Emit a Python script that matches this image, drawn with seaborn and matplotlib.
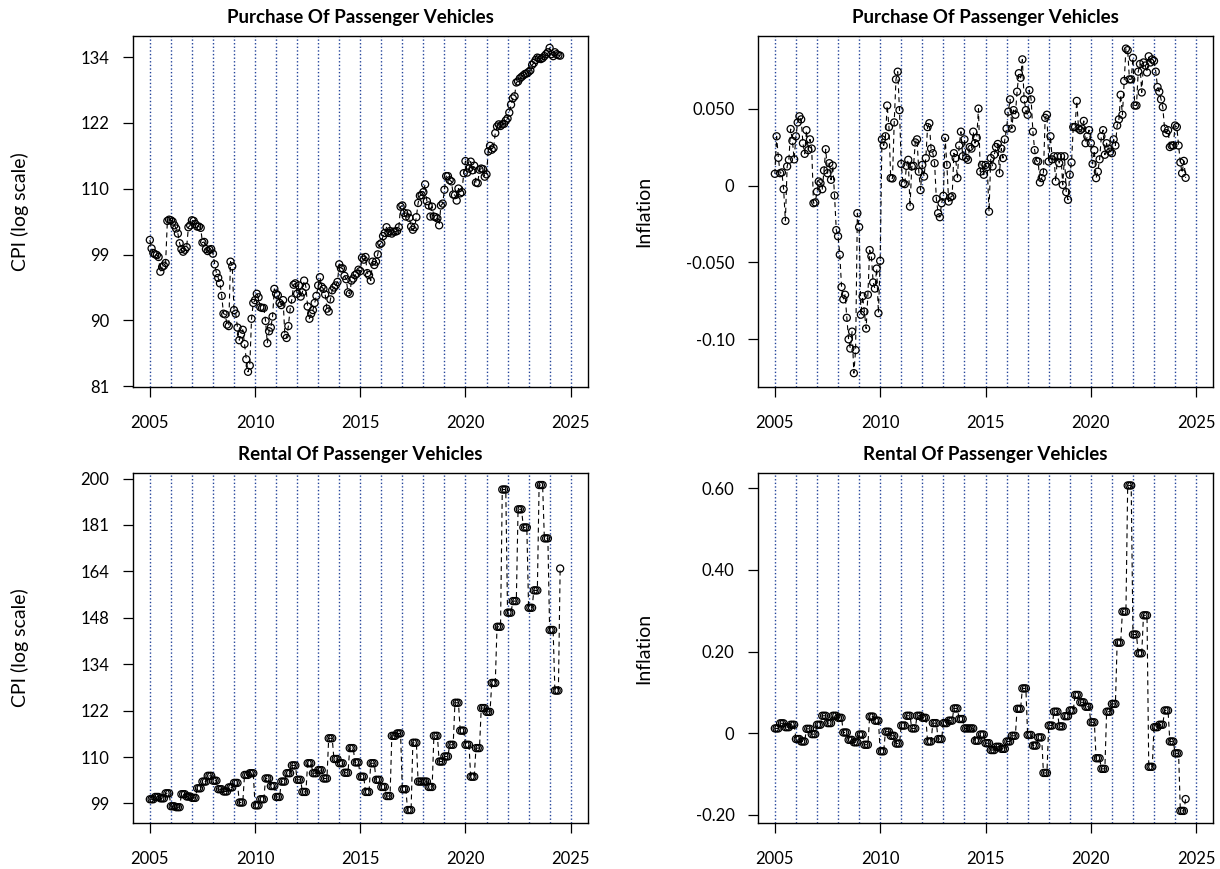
import numpy as np
import pandas as pd
import matplotlib
matplotlib.use("Agg")
import matplotlib.pyplot as plt
import seaborn as sns
from matplotlib.ticker import FixedLocator, FixedFormatter, NullLocator

# ---------------- data ----------------
start_year = 2005

purchase_cpi = [
    101.3, 100.0, 99.3, 99.1, 99.0, 98.7, 96.5, 97.2, 97.4, 97.8, 104.3, 104.5,   # 2005
    104.4, 104.2, 103.6, 103.1, 102.3, 100.8, 99.9, 99.5, 99.8, 100.2, 103.3, 103.6,  # 2006
    104.4, 104.3, 103.8, 103.4, 103.4, 103.2, 100.9, 101.0, 99.9, 99.6, 99.8, 99.9,   # 2007
    99.2, 97.6, 96.3, 95.6, 94.8, 93.0, 90.5, 90.4, 89.0, 88.8, 98.0, 97.3,           # 2008
    91.0, 90.5, 88.6, 86.9, 87.7, 88.3, 86.4, 84.4, 82.8, 83.6, 89.8, 92.0,           # 2009
    92.4, 93.3, 92.8, 91.4, 91.3, 91.3, 89.5, 86.5, 88.1, 88.6, 90.1, 94.0,           # 2010
    93.3, 93.1, 92.0, 91.7, 92.4, 87.6, 87.2, 88.8, 91.1, 92.5, 94.6, 94.8,           # 2011
    93.3, 94.5, 92.9, 93.5, 95.2, 94.3, 91.5, 89.8, 90.5, 91.0, 92.0, 93.0,           # 2012
    94.5, 95.7, 94.3, 94.0, 93.2, 91.2, 90.8, 92.5, 93.8, 94.2, 94.5, 95.0,           # 2013
    97.6, 97.0, 97.0, 95.9, 95.4, 93.5, 93.3, 95.2, 95.5, 96.0, 96.2, 96.8,           # 2014
    96.6, 98.6, 98.3, 98.7, 96.3, 96.0, 95.2, 98.0, 97.5, 98.0, 99.1, 100.6,          # 2015
    100.8, 101.9, 102.4, 103.3, 102.4, 102.7, 102.3, 102.6, 102.6, 102.7, 103.3, 106.6,  # 2016
    106.8, 105.6, 105.0, 105.5, 104.8, 103.4, 102.9, 103.3, 104.9, 107.2, 108.4, 108.5,  # 2017
    109.0, 110.3, 107.5, 106.8, 105.0, 106.6, 105.0, 104.9, 104.7, 103.6, 106.8, 107.1,  # 2018
    109.4, 111.7, 111.7, 111.0, 110.8, 108.6, 108.5, 107.6, 109.6, 108.8, 109.0, 112.2,  # 2019
    114.3, 112.3, 113.0, 114.2, 112.7, 113.5, 110.6, 110.5, 112.8, 113.0, 112.9, 111.6,  # 2020
    112.0, 116.0, 117.0, 116.3, 116.6, 119.3, 120.5, 120.9, 120.6, 120.9, 121.0, 121.6,  # 2021
    122.0, 123.1, 124.6, 125.8, 126.2, 128.9, 129.1, 129.7, 130.0, 130.3, 130.6, 130.7,  # 2022
    131.0, 131.3, 132.4, 132.8, 133.4, 133.9, 133.8, 133.6, 133.8, 134.2, 134.6, 135.0,  # 2023
    135.9, 134.6, 134.2, 135.0, 134.6, 134.4, 134.3,                                     # 2024
]

purchase_infl = [
    0.0076, 0.032, 0.018, 0.008, 0.0085, -0.0024, -0.023, 0.0124, 0.0167, 0.0367, 0.029, 0.017,
    0.032, 0.041, 0.045, 0.043, 0.0275, 0.0206, 0.036, 0.023, 0.030, 0.024, -0.0115, -0.011,
    -0.004, 0.0026, 0.0015, -0.0024, 0.0098, 0.0236, 0.008, 0.0145, 0.0037, 0.013, -0.0065, -0.029,
    -0.033, -0.045, -0.066, -0.074, -0.071, -0.086, -0.100, -0.106, -0.095, -0.122, -0.107, -0.018,
    -0.027, -0.084, -0.072, -0.082, -0.093, -0.071, -0.042, -0.046, -0.063, -0.067, -0.054, -0.083,
    -0.049, 0.030, 0.026, 0.032, 0.052, 0.038, 0.0048, 0.0046, 0.041, 0.069, 0.074, 0.049,
    0.014, 0.0015, 0.0009, 0.0128, 0.0167, -0.0137, 0.0124, 0.0128, 0.028, 0.030, 0.009, -0.003,
    0.0134, 0.0058, 0.0178, 0.038, 0.0405, 0.024, 0.021, 0.0145, -0.0087, -0.018, -0.0206, -0.0115,
    -0.0067, 0.031, 0.0134, -0.0104, -0.0076, -0.007, 0.021, 0.0178, 0.0048, 0.026, 0.035, 0.019,
    0.030, 0.018, 0.0167, 0.025, 0.024, 0.035, 0.0275, 0.031, 0.050, 0.009, 0.0134, 0.007,
    0.0134, 0.012, -0.017, 0.0178, 0.0124, 0.020, 0.025, 0.027, 0.008, 0.024, 0.0178, 0.030,
    0.037, 0.048, 0.056, 0.037, 0.049, 0.046, 0.061, 0.073, 0.070, 0.082, 0.056, 0.049,
    0.046, 0.062, 0.056, 0.035, 0.023, 0.016, 0.0156, 0.002, 0.0048, 0.0085, 0.044, 0.046,
    0.0156, 0.032, 0.017, 0.019, 0.0026, 0.019, 0.0145, 0.019, 0.0004, 0.019, -0.0043, -0.0093,
    0.007, 0.015, 0.038, 0.038, 0.055, 0.037, 0.036, 0.037, 0.042, 0.0275, 0.032, 0.036,
    0.0275, 0.014, 0.023, 0.0048, 0.009, 0.017, 0.032, 0.036, 0.020, 0.0275, 0.024, 0.022,
    0.021, 0.030, 0.026, 0.039, 0.043, 0.059, 0.046, 0.068, 0.089, 0.088, 0.069, 0.069,
    0.083, 0.052, 0.052, 0.074, 0.079, 0.0605, 0.080, 0.078, 0.0735, 0.084, 0.080, 0.082,
    0.081, 0.074, 0.064, 0.061, 0.056, 0.051, 0.037, 0.034, 0.036, 0.025, 0.026, 0.026,
    0.039, 0.038, 0.026, 0.015, 0.008, 0.016, 0.005,
]

# rental series is quarterly (each value held for the three months of its quarter)
rental_cpi_quarterly = [
    99.9, 100.4, 100.1, 101.2,    # 2005
    98.4, 98.2, 101.0, 100.5,     # 2006
    100.2, 102.3, 103.8, 105.1,   # 2007
    104.0, 102.1, 101.6, 102.5,   # 2008
    103.5, 99.2, 105.3, 105.7,    # 2009
    98.6, 99.9, 104.5, 102.8,     # 2010
    100.4, 103.8, 105.7, 107.5,   # 2011
    104.2, 101.5, 108.0, 105.7,   # 2012
    106.4, 104.5, 114.0, 109.0,   # 2013
    108.0, 105.8, 111.6, 108.2,   # 2014
    104.9, 101.5, 108.0, 104.2,   # 2015
    102.6, 100.6, 114.6, 115.2,   # 2016
    102.1, 97.6, 112.9, 103.8,    # 2017
    103.8, 102.6, 114.6, 108.4,   # 2018
    109.6, 112.4, 123.1, 115.9,   # 2019
    112.4, 104.9, 111.6, 121.7,   # 2020
    120.7, 128.5, 145.1, 195.3,   # 2021
    149.6, 153.4, 187.1, 179.9,   # 2022
    151.2, 157.0, 197.2, 175.7,   # 2023
    144.1, 126.4,                 # 2024 H1
]
rental_cpi_last = [164.6]         # Jul 2024

rental_infl_quarterly = [
    0.012, 0.0245, 0.015, 0.021,
    -0.014, -0.020, 0.011, -0.002,
    0.021, 0.043, 0.025, 0.043,
    0.038, 0.002, -0.016, -0.022,
    -0.003, -0.028, 0.041, 0.031,
    -0.044, 0.004, -0.006, -0.025,
    0.019, 0.043, 0.012, 0.043,
    0.038, -0.020, 0.025, -0.014,
    0.025, 0.031, 0.061, 0.035,
    0.012, 0.012, -0.018, -0.003,
    -0.024, -0.041, -0.033, -0.038,
    -0.020, -0.006, 0.060, 0.110,
    -0.004, -0.030, -0.010, -0.097,
    0.019, 0.053, 0.017, 0.042,
    0.056, 0.094, 0.076, 0.065,
    0.027, -0.061, -0.087, 0.053,
    0.072, 0.222, 0.298, 0.607,
    0.242, 0.196, 0.289, -0.082,
    0.015, 0.021, 0.056, -0.020,
    -0.049, -0.190,
]
rental_infl_last = [-0.161]

titles = ["Purchase Of Passenger Vehicles", "Rental Of Passenger Vehicles"]
ylabels = ["CPI (log scale)", "Inflation"]
xtick_labels = ["2005", "2010", "2015", "2020", "2025"]

tl_ytick_labels = ["81", "90", "99", "110", "122", "134"]
bl_ytick_labels = ["99", "110", "122", "134", "148", "164", "181", "200"]
tr_ytick_values = [-0.10, -0.05, 0.0, 0.05]
tr_ytick_labels = ["-0.10", "-0.050", "0", "0.050"]
br_ytick_values = [-0.20, 0.0, 0.20, 0.40, 0.60]
br_ytick_labels = ["-0.20", "0", "0.20", "0.40", "0.60"]

# ---------------- build series ----------------
rental_cpi = np.concatenate([np.repeat(rental_cpi_quarterly, 3), rental_cpi_last])
rental_infl = np.concatenate([np.repeat(rental_infl_quarterly, 3), rental_infl_last])

def month_axis(n):
    return start_year + np.arange(n) / 12.0

# ---------------- style ----------------
sns.set_theme(style="white")
plt.rcParams["font.family"] = ["Lato", "DejaVu Sans"]
plt.rcParams["axes.edgecolor"] = "black"
plt.rcParams["axes.linewidth"] = 1.0

fig = plt.figure(figsize=(12.2, 8.69), dpi=100)
W, H = 1220.0, 869.0
boxes = {
    "tl": (133, 36, 587.5, 387),
    "tr": (758, 36, 1213, 387),
    "bl": (133, 473, 587.5, 823),
    "br": (758, 473, 1213, 823),
}
axes = {}
for k, (x0, y0, x1, y1) in boxes.items():
    axes[k] = fig.add_axes([x0 / W, 1 - y1 / H, (x1 - x0) / W, (y1 - y0) / H])

VLINE_COLOR = "#23439a"


def panel(ax, y, title, ylabel, ylim, log, ytick_vals, ytick_labels, label_x):
    t = month_axis(len(y))
    df = pd.DataFrame({"t": t, "v": y})
    if log:
        ax.set_yscale("log")
    for yr in range(2005, 2026):
        ax.axvline(yr, color=VLINE_COLOR, lw=1.0, ls=(0, (1.0, 1.6)), zorder=1)
    sns.lineplot(data=df, x="t", y="v", ax=ax, color="black", lw=0.8,
                 estimator=None, sort=False, zorder=2)
    ax.lines[-1].set_linestyle((0, (4.5, 3.5)))
    sns.scatterplot(data=df, x="t", y="v", ax=ax, marker="o", s=26,
                    facecolors="none", edgecolor="black", linewidth=0.9, zorder=3)
    ax.set_xlim(2004.2, 2025.8)
    ax.set_ylim(*ylim)
    ax.xaxis.set_major_locator(FixedLocator([2005, 2010, 2015, 2020, 2025]))
    ax.xaxis.set_major_formatter(FixedFormatter(xtick_labels))
    ax.yaxis.set_major_locator(FixedLocator(ytick_vals))
    ax.yaxis.set_major_formatter(FixedFormatter(ytick_labels))
    ax.yaxis.set_minor_locator(NullLocator())
    ax.xaxis.set_minor_locator(NullLocator())
    ax.tick_params(axis="both", which="major", direction="out", length=7, width=0.9,
                   colors="black", labelsize=12, bottom=True, left=True)
    ax.tick_params(axis="x", pad=13)
    ax.tick_params(axis="y", pad=10)
    ax.set_xlabel("")
    ax.set_ylabel(ylabel, fontsize=14, color="black")
    ax.yaxis.set_label_coords(label_x, 0.5)
    ax.set_title(title, fontsize=13.5, fontweight="bold", pad=9, color="black")
    for s in ax.spines.values():
        s.set_visible(True)
        s.set_color("black")
        s.set_linewidth(1.0)
    ax.grid(False)


tl_vals = np.geomspace(float(tl_ytick_labels[0]), float(tl_ytick_labels[-1]), len(tl_ytick_labels))
bl_vals = np.geomspace(float(bl_ytick_labels[0]), float(bl_ytick_labels[-1]), len(bl_ytick_labels))

panel(axes["tl"], purchase_cpi, titles[0], ylabels[0], (80.9, 138.4), True, tl_vals, tl_ytick_labels, -0.229)
panel(axes["tr"], purchase_infl, titles[0], ylabels[1], (-0.131, 0.0972), False, tr_ytick_values, tr_ytick_labels, -0.233)
panel(axes["bl"], rental_cpi, titles[1], ylabels[0], (94.9, 202.4), True, bl_vals, bl_ytick_labels, -0.229)
panel(axes["br"], rental_infl, titles[1], ylabels[1], (-0.2196, 0.6375), False, br_ytick_values, br_ytick_labels, -0.233)

fig.savefig("out.png", dpi=100, facecolor="white")
